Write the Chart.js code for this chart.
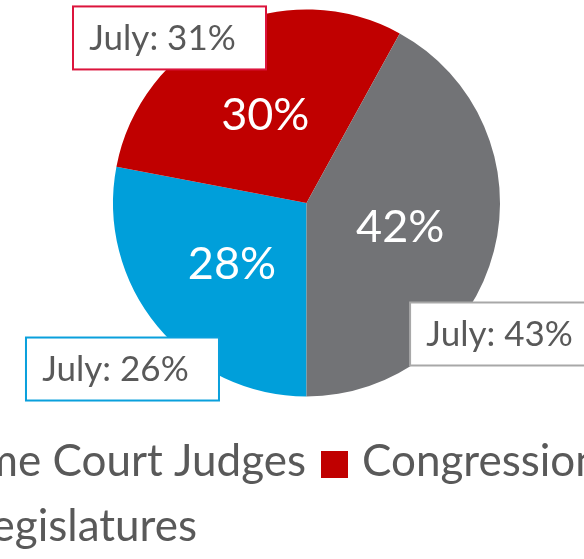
<!DOCTYPE html>
<html>
<head>
<meta charset="utf-8">
<script src="https://cdn.jsdelivr.net/npm/chart.js@4"></script>
<style>
  html, body { margin: 0; padding: 0; background: #ffffff; }
  #wrap { position: relative; width: 584px; height: 559px; overflow: hidden; }
</style>
</head>
<body>
<div id="wrap"><canvas id="pie"></canvas></div>
<script>
// Shares by group: current survey and the July survey
const categories = ['Supreme Court Judges', 'Congressional Representatives', 'State Legislatures'];
const currentShares = [28, 30, 42];
const julyShares = [26, 31, 43];
const julyPrefix = 'July: ';

const sliceColors = ['#009FDA', '#C00000', '#727376'];
const boxBorders = ['#0AA0DC', '#DC143C', '#A8A8A8'];

const FONT = 'Lato, "Open Sans", sans-serif';
const TEXT_GRAY = '#595959';

// White percentage labels at the middle of each slice
const valueLabels = {
  id: 'valueLabels',
  afterDatasetsDraw(chart) {
    const ctx = chart.ctx;
    const meta = chart.getDatasetMeta(0);
    ctx.save();
    ctx.font = '45px ' + FONT;
    ctx.fillStyle = '#ffffff';
    ctx.textAlign = 'center';
    ctx.textBaseline = 'middle';
    meta.data.forEach((arc, i) => {
      const p = arc.tooltipPosition();
      ctx.fillText(chart.data.datasets[0].data[i] + '%', p.x, p.y);
    });
    ctx.restore();
  }
};

// Boxed callouts with the July share, placed relative to the pie's centre and radius
const julyCallouts = {
  id: 'julyCallouts',
  afterDatasetsDraw(chart, args, opts) {
    const ctx = chart.ctx;
    const meta = chart.getDatasetMeta(0);
    ctx.save();
    ctx.font = '35px ' + FONT;
    ctx.textBaseline = 'middle';
    ctx.textAlign = 'center';
    meta.data.forEach((arc, i) => {
      const { x, y, outerRadius } = arc.getProps(['x', 'y', 'outerRadius'], true);
      const off = opts.offsets[i];
      const cx = x + off[0] * outerRadius;
      const cy = y + off[1] * outerRadius;
      const w = opts.boxWidth, h = opts.boxHeight;
      ctx.fillStyle = '#ffffff';
      ctx.fillRect(cx - w / 2, cy - h / 2, w, h);
      ctx.lineWidth = 2;
      ctx.strokeStyle = boxBorders[i];
      ctx.strokeRect(cx - w / 2, cy - h / 2, w, h);
      ctx.fillStyle = TEXT_GRAY;
      ctx.fillText(julyPrefix + julyShares[i] + '%', cx - 7, cy + 1);
    });
    ctx.restore();
  }
};

// Two-row legend under the pie
const rowLegend = {
  id: 'rowLegend',
  afterDraw(chart, args, opts) {
    const ctx = chart.ctx;
    ctx.save();
    ctx.font = opts.fontSize + 'px ' + FONT;
    ctx.textBaseline = 'alphabetic';
    ctx.textAlign = 'left';
    const sq = opts.box, gapText = opts.gapText, gapItem = opts.gapItem;
    const drawItem = (idx, boxX, baseline) => {
      ctx.fillStyle = sliceColors[idx];
      ctx.fillRect(boxX, baseline - sq + 2, sq, sq);
      ctx.fillStyle = TEXT_GRAY;
      ctx.fillText(categories[idx], boxX + sq + gapText, baseline);
    };
    // first row: anchored on the second item's swatch
    const r1 = opts.row1;
    const w0 = ctx.measureText(categories[0]).width;
    const box0 = r1.anchorBoxX - gapItem - w0 - gapText - sq;
    drawItem(0, box0, r1.baseline);
    drawItem(1, r1.anchorBoxX, r1.baseline);
    // second row: anchored on the end of its text
    const r2 = opts.row2;
    const w2 = ctx.measureText(categories[2]).width;
    drawItem(2, r2.textEnd - w2 - gapText - sq, r2.baseline);
    ctx.restore();
  }
};

new Chart(document.getElementById('pie'), {
  type: 'pie',
  data: {
    labels: categories,
    datasets: [{
      data: currentShares,
      backgroundColor: sliceColors,
      borderWidth: 0
    }]
  },
  options: {
    responsive: true,
    maintainAspectRatio: false,
    animation: false,
    rotation: 180,
    layout: { padding: { left: 113, right: 84, top: 9, bottom: 162 } },
    plugins: {
      legend: { display: false },
      tooltip: { enabled: false },
      julyCallouts: {
        boxWidth: 193,
        boxHeight: 63,
        offsets: [[-0.951, 0.858], [-0.708, -0.853], [1.034, 0.677]]
      },
      rowLegend: {
        fontSize: 44,
        box: 27,
        gapText: 14,
        gapItem: 15,
        row1: { baseline: 476, anchorBoxX: 321 },
        row2: { baseline: 541, textEnd: 197 }
      }
    }
  },
  plugins: [valueLabels, julyCallouts, rowLegend]
});
</script>
</body>
</html>
